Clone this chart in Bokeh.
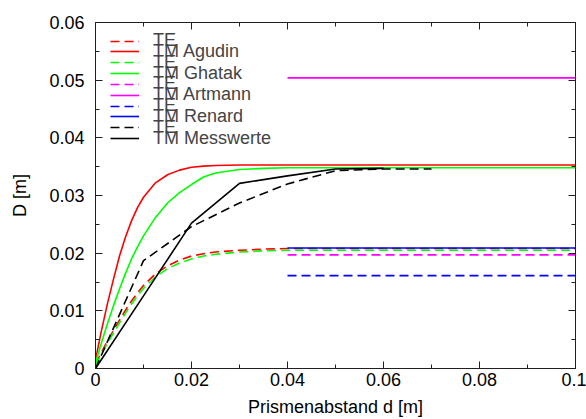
from bokeh.plotting import figure
from bokeh.models import (Range1d, FixedTicker, LinearAxis, Legend, LegendItem,
                          CustomJSTickFormatter)
from bokeh.embed import file_html
from bokeh.resources import INLINE

# ---- data ----
d_model = [0, 0.00125, 0.0025, 0.00375, 0.005, 0.00625, 0.0075, 0.00875, 0.01,
           0.0125, 0.015, 0.0175, 0.02, 0.0225, 0.025, 0.03, 0.035, 0.04, 0.05, 0.1]
agudin_tm = [0.0015, 0.0066, 0.0113, 0.0155, 0.0195, 0.0228, 0.0256, 0.0279, 0.0297,
             0.0322, 0.0336, 0.0344, 0.0349, 0.0351, 0.0352, 0.0353, 0.0353, 0.0353, 0.0353, 0.0353]
agudin_te = [0.0008, 0.0028, 0.0048, 0.0066, 0.0084, 0.0101, 0.0117, 0.0131, 0.0144,
             0.0164, 0.0178, 0.0188, 0.0195, 0.0199, 0.0202, 0.0205, 0.0207, 0.0208, 0.0208, 0.0208]
ghatak_tm = [0.0010, 0.0045, 0.0078, 0.0109, 0.0138, 0.0165, 0.0190, 0.0211, 0.0230,
             0.0262, 0.0287, 0.0305, 0.0319, 0.0332, 0.0339, 0.0345, 0.0347, 0.0348, 0.0348, 0.0348]
ghatak_te = [0.0006, 0.0025, 0.0044, 0.0062, 0.0079, 0.0096, 0.0112, 0.0126, 0.0139,
             0.0159, 0.0173, 0.0183, 0.0190, 0.0195, 0.0198, 0.0202, 0.0204, 0.0205, 0.0205, 0.0205]

d_const = [0.04, 0.1]
artmann_tm = [0.0504, 0.0504]
artmann_te = [0.0197, 0.0197]
renard_tm = [0.0209, 0.0209]
renard_te = [0.0161, 0.0161]

d_mess_te = [0, 0.01, 0.02, 0.03, 0.04, 0.05, 0.06, 0.07]
mess_te = [0, 0.0187, 0.0246, 0.0287, 0.0320, 0.0343, 0.0346, 0.0346]
d_mess_tm = [0, 0.01, 0.02, 0.03, 0.04, 0.05, 0.06]
mess_tm = [0, 0.0126, 0.0252, 0.0321, 0.0334, 0.0346, 0.0347]

x_ticks = [0, 0.02, 0.04, 0.06, 0.08, 0.1]
x_tick_labels = ["0", "0.02", "0.04", "0.06", "0.08", "0.1"]
x_minor = [0.01, 0.03, 0.05, 0.07, 0.09]
y_ticks = [0, 0.01, 0.02, 0.03, 0.04, 0.05, 0.06]
y_tick_labels = ["0", "0.01", "0.02", "0.03", "0.04", "0.05", "0.06"]
y_minor = [0.005, 0.015, 0.025, 0.035, 0.045, 0.055]

legend_labels = ["TE", "TM Agudin", "TE", "TM Ghatak", "TE", "TM Artmann",
                 "TE", "TM Renard", "TE", "TM Messwerte"]

FONT = "Liberation Sans"
FS = "18px"
DASH = "9 5"
LW = 1.6

p = figure(width=586, height=419, output_backend="svg", toolbar_location=None,
           x_range=Range1d(0, 0.1), y_range=Range1d(0, 0.06),
           min_border_left=95, min_border_right=11, min_border_top=22, min_border_bottom=50,
           x_axis_label="Prismenabstand d [m]", y_axis_label="D [m]")
p.grid.visible = False
p.outline_line_color = "#202020"
p.background_fill_color = "white"
p.border_fill_color = "white"

r_ag_te = p.line(d_model, agudin_te, color="#ff0000", line_width=LW, line_dash=DASH)
r_ag_tm = p.line(d_model, agudin_tm, color="#ff0000", line_width=LW)
r_gh_te = p.line(d_model, ghatak_te, color="#00ff00", line_width=LW, line_dash=DASH)
r_gh_tm = p.line(d_model, ghatak_tm, color="#00ff00", line_width=LW)
r_ar_te = p.line(d_const, artmann_te, color="#ff00ff", line_width=LW, line_dash=DASH)
r_ar_tm = p.line(d_const, artmann_tm, color="#ff00ff", line_width=LW)
r_re_te = p.line(d_const, renard_te, color="#0000ff", line_width=LW, line_dash=DASH)
r_re_tm = p.line(d_const, renard_tm, color="#0000ff", line_width=LW)
r_me_te = p.line(d_mess_te, mess_te, color="black", line_width=LW, line_dash=DASH)
r_me_tm = p.line(d_mess_tm, mess_tm, color="black", line_width=LW)
legend_renderers = [r_ag_te, r_ag_tm, r_gh_te, r_gh_tm, r_ar_te, r_ar_tm,
                    r_re_te, r_re_tm, r_me_te, r_me_tm]


def style_axis(ax, ticks, minor, labels=None):
    ax.ticker = FixedTicker(ticks=ticks, minor_ticks=minor)
    ax.major_tick_in = 7
    ax.major_tick_out = 0
    ax.minor_tick_in = 4
    ax.minor_tick_out = 0
    ax.axis_line_color = "#202020"
    ax.major_tick_line_color = "#202020"
    ax.minor_tick_line_color = "#202020"
    ax.major_label_text_font = FONT
    ax.major_label_text_font_size = FS
    ax.major_label_text_color = "black"
    ax.axis_label_text_font = FONT
    ax.axis_label_text_font_size = FS
    ax.axis_label_text_font_style = "normal"
    ax.axis_label_text_color = "black"
    if labels is not None:
        ax.major_label_overrides = dict(zip(ticks, labels))
    else:
        ax.formatter = CustomJSTickFormatter(code="return ''")


style_axis(p.xaxis[0], x_ticks, x_minor, x_tick_labels)
style_axis(p.yaxis[0], y_ticks, y_minor, y_tick_labels)
p.xaxis[0].major_label_standoff = 4
p.xaxis[0].axis_label_standoff = 8
p.yaxis[0].major_label_standoff = 11
p.yaxis[0].axis_label_standoff = 16

top_ax = LinearAxis()
style_axis(top_ax, x_ticks, x_minor)
top_ax.major_label_standoff = 0
p.add_layout(top_ax, "above")
right_ax = LinearAxis()
style_axis(right_ax, y_ticks, y_minor)
right_ax.major_label_standoff = 0
p.add_layout(right_ax, "right")

# gnuplot-style key: tightly stacked rows (one Legend per row so rows may overlap)
row_step = 10.85
first_bottom = 317
for i, (lab, rend) in enumerate(zip(legend_labels, legend_renderers)):
    lg = Legend(items=[LegendItem(label=lab, renderers=[rend])],
                location=(15, first_bottom - i * row_step), padding=0, margin=0,
                glyph_width=29, glyph_height=8, label_height=8, label_standoff=14,
                label_text_font=FONT, label_text_font_size=FS,
                border_line_alpha=0, background_fill_alpha=0)
    p.add_layout(lg)

open("out.html", "w").write(file_html(p, INLINE))
